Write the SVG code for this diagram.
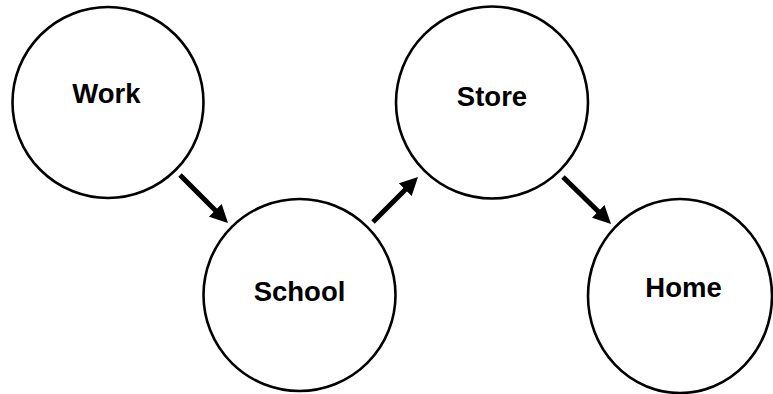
<svg xmlns="http://www.w3.org/2000/svg" width="773" height="394" viewBox="0 0 773 394">
  <style>
    .node circle, .node ellipse { fill: #ffffff; stroke: #000000; stroke-width: 2.6; }
    .node text { font-family: "Liberation Sans", Arial, sans-serif; font-weight: bold; font-size: 27.5px; fill: #000000; text-anchor: middle; }
    .edge { stroke: #000000; stroke-width: 5; fill: none; marker-end: url(#head); }
  </style>
  <defs>
    <marker id="head" viewBox="0 0 18 18" markerWidth="18" markerHeight="18" refX="2" refY="9" orient="auto" markerUnits="userSpaceOnUse">
      <path d="M0,0 L18,9 L0,18 z" fill="#000000"/>
    </marker>
  </defs>

  <g id="connectors">
    <line class="edge" x1="180" y1="175" x2="216.7" y2="211.7"/>
    <line class="edge" x1="373" y1="222" x2="406.7" y2="188.3"/>
    <line class="edge" x1="563" y1="177" x2="599.6" y2="212.8"/>
  </g>

  <g id="work" class="node">
    <circle cx="108" cy="102.5" r="95.5"/>
    <text x="106.5" y="103">Work</text>
  </g>
  <g id="school" class="node">
    <circle cx="299.5" cy="295" r="96"/>
    <text x="299.5" y="301">School</text>
  </g>
  <g id="store" class="node">
    <circle cx="492" cy="102.5" r="96"/>
    <text x="492" y="106">Store</text>
  </g>
  <g id="home" class="node">
    <ellipse cx="680" cy="296" rx="92" ry="97"/>
    <text x="683.5" y="297">Home</text>
  </g>
</svg>
